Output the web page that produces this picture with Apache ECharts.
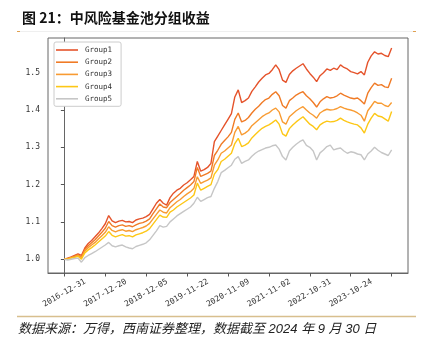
<!DOCTYPE html>
<html><head><meta charset="utf-8">
<script src="https://cdn.jsdelivr.net/npm/echarts@6/dist/echarts.min.js"></script>
<style>html,body{margin:0;padding:0;background:#fff}#c{width:425px;height:346px}</style>
</head><body><div id="c"></div>
<script>
const seriesNames = ['Group1','Group2','Group3','Group4','Group5'];
const tickLabels = ['2016-12-31','2017-12-20','2018-12-05','2019-11-22','2020-11-09','2021-11-02','2022-10-31','2023-10-24',''];
const yTicks = [1.0,1.1,1.2,1.3,1.4,1.5];

const group1 = [1.000,1.003,1.006,1.010,1.014,1.010,1.030,1.042,1.050,1.060,1.070,1.082,1.095,1.117,1.103,1.098,1.102,1.104,1.100,1.101,1.098,1.105,1.108,1.110,1.114,1.120,1.135,1.150,1.160,1.150,1.145,1.165,1.177,1.185,1.190,1.199,1.205,1.213,1.222,1.262,1.236,1.240,1.246,1.257,1.315,1.330,1.345,1.360,1.375,1.390,1.435,1.454,1.420,1.425,1.432,1.450,1.462,1.475,1.485,1.494,1.498,1.508,1.521,1.508,1.480,1.474,1.495,1.505,1.512,1.518,1.524,1.510,1.498,1.488,1.476,1.492,1.500,1.510,1.506,1.512,1.508,1.521,1.514,1.510,1.503,1.500,1.497,1.503,1.494,1.528,1.545,1.556,1.550,1.552,1.546,1.543,1.566];
const group2 = [1.000,1.002,1.005,1.008,1.012,1.006,1.026,1.036,1.044,1.052,1.062,1.072,1.083,1.101,1.090,1.086,1.090,1.092,1.088,1.090,1.087,1.092,1.096,1.098,1.102,1.108,1.122,1.135,1.148,1.140,1.138,1.152,1.160,1.168,1.176,1.185,1.192,1.199,1.208,1.246,1.222,1.226,1.230,1.236,1.278,1.292,1.308,1.318,1.328,1.340,1.375,1.392,1.368,1.372,1.380,1.392,1.402,1.410,1.420,1.428,1.432,1.442,1.449,1.438,1.412,1.405,1.425,1.432,1.440,1.445,1.449,1.438,1.430,1.420,1.408,1.422,1.430,1.436,1.432,1.434,1.438,1.445,1.440,1.436,1.432,1.430,1.432,1.425,1.416,1.445,1.460,1.472,1.466,1.468,1.462,1.460,1.485];
const group3 = [1.000,1.001,1.004,1.007,1.010,1.004,1.022,1.031,1.038,1.045,1.054,1.063,1.072,1.087,1.077,1.073,1.077,1.079,1.075,1.077,1.074,1.079,1.082,1.085,1.089,1.096,1.108,1.120,1.132,1.126,1.124,1.138,1.146,1.154,1.160,1.168,1.175,1.181,1.190,1.221,1.203,1.208,1.212,1.218,1.252,1.266,1.284,1.290,1.298,1.306,1.340,1.356,1.333,1.338,1.345,1.358,1.366,1.374,1.382,1.388,1.392,1.400,1.405,1.395,1.368,1.362,1.382,1.390,1.398,1.404,1.409,1.400,1.392,1.386,1.378,1.392,1.398,1.402,1.400,1.401,1.404,1.409,1.405,1.402,1.400,1.397,1.392,1.386,1.370,1.398,1.410,1.423,1.418,1.418,1.412,1.409,1.420];
const group4 = [1.000,1.000,1.003,1.005,1.008,1.000,1.017,1.025,1.031,1.038,1.046,1.054,1.062,1.074,1.064,1.060,1.063,1.066,1.062,1.063,1.060,1.065,1.068,1.071,1.075,1.082,1.094,1.106,1.118,1.113,1.112,1.126,1.132,1.140,1.146,1.152,1.158,1.164,1.172,1.204,1.185,1.190,1.195,1.200,1.228,1.240,1.262,1.268,1.276,1.284,1.310,1.324,1.302,1.306,1.312,1.325,1.334,1.343,1.351,1.356,1.360,1.366,1.373,1.362,1.336,1.330,1.350,1.360,1.368,1.375,1.382,1.372,1.362,1.356,1.347,1.360,1.366,1.370,1.368,1.369,1.372,1.378,1.372,1.368,1.365,1.362,1.360,1.352,1.338,1.362,1.378,1.391,1.384,1.382,1.376,1.370,1.396];
const group5 = [1.000,0.998,1.000,1.002,1.003,0.992,1.004,1.010,1.015,1.020,1.026,1.032,1.038,1.045,1.036,1.033,1.036,1.038,1.033,1.030,1.028,1.034,1.037,1.040,1.044,1.052,1.064,1.076,1.090,1.086,1.088,1.100,1.108,1.116,1.122,1.128,1.134,1.140,1.150,1.166,1.155,1.160,1.165,1.168,1.190,1.208,1.232,1.238,1.245,1.252,1.268,1.275,1.257,1.262,1.266,1.276,1.284,1.290,1.294,1.298,1.300,1.304,1.306,1.295,1.275,1.266,1.290,1.300,1.308,1.315,1.320,1.305,1.300,1.290,1.266,1.285,1.293,1.302,1.306,1.293,1.296,1.298,1.290,1.284,1.288,1.286,1.282,1.280,1.266,1.282,1.290,1.300,1.292,1.286,1.282,1.278,1.293];

const allValues = [group1, group2, group3, group4, group5];
const colors = ['#e5532b','#f07b26','#f89b32','#fdc716','#c6c6c6'];
const step = 12;
const xTickValues = tickLabels.map((_, k) => k * step);

const chart = echarts.init(document.getElementById('c'), null, {renderer: 'canvas'});
chart.setOption({
  animation: false,
  backgroundColor: '#fff',
  title: {
    text: '图 21：中风险基金池分组收益',
    left: 17, top: 6,
    textStyle: {fontSize: 14, fontWeight: 'bold', color: '#111', fontFamily: 'Noto Sans CJK SC'}
  },
  graphic: [
    {type: 'line', shape: {x1: 17, y1: 31.5, x2: 416, y2: 31.5}, style: {stroke: '#efefef', lineWidth: 1}},
    {type: 'line', shape: {x1: 17, y1: 31.5, x2: 20, y2: 31.5}, style: {stroke: '#e0a050', lineWidth: 1}},
    {type: 'line', shape: {x1: 413, y1: 31.5, x2: 416, y2: 31.5}, style: {stroke: '#e0a050', lineWidth: 1}},
    {type: 'line', shape: {x1: 17, y1: 316.5, x2: 416, y2: 316.5}, style: {stroke: '#d8bf8e', lineWidth: 1.5}},
    {type: 'text', left: 18, top: 323, style: {text: '数据来源：万得，西南证券整理，数据截至 2024 年 9 月 30 日', fontSize: 13, fontStyle: 'italic', fill: '#222', fontFamily: 'Liberation Sans, Noto Sans CJK SC'}}
  ],
  legend: {
    orient: 'vertical', left: 54, top: 42,
    data: seriesNames,
    icon: 'rect', itemWidth: 22, itemHeight: 1.6, itemGap: 3.2,
    padding: [3.5, 9, 3, 2],
    backgroundColor: '#fff', borderColor: '#cccccc', borderWidth: 1, borderRadius: 2,
    textStyle: {fontSize: 7.5, color: '#333', fontFamily: 'DejaVu Sans Mono', lineHeight: 9, padding: [0, 0, 0, 2]}
  },
  grid: {left: 48, right: 17, top: 38, bottom: 73, show: true, borderColor: '#666', borderWidth: 1},
  xAxis: {
    type: 'value', min: -4.8, max: 100.8,
    splitLine: {show: false},
    axisLine: {show: true, lineStyle: {color: '#666', width: 1}},
    axisTick: {show: true, length: 3.5, lineStyle: {color: '#555'}, customValues: xTickValues},
    axisLabel: {
      customValues: xTickValues.slice(0, 8),
      formatter: v => tickLabels[Math.round(v / step)],
      rotate: 30, align: 'center', verticalAlign: 'middle', margin: 20,
      fontSize: 8, color: '#333', fontFamily: 'DejaVu Sans Mono'
    }
  },
  yAxis: {
    type: 'value', min: 0.963, max: 1.593,
    splitLine: {show: false},
    axisLine: {show: true, lineStyle: {color: '#666', width: 1}},
    axisTick: {show: true, length: 3.5, lineStyle: {color: '#555'}, customValues: yTicks},
    axisLabel: {customValues: yTicks, formatter: v => v.toFixed(1), margin: 8, fontSize: 8, color: '#333', fontFamily: 'DejaVu Sans Mono'}
  },
  series: seriesNames.map((name, s) => ({
    name, type: 'line', showSymbol: false, symbol: 'none',
    data: allValues[s].map((v, i) => [i, v]),
    lineStyle: {width: 1.4, color: colors[s]},
    itemStyle: {color: colors[s]},
    z: 2 + s
  }))
});
</script></body></html>
